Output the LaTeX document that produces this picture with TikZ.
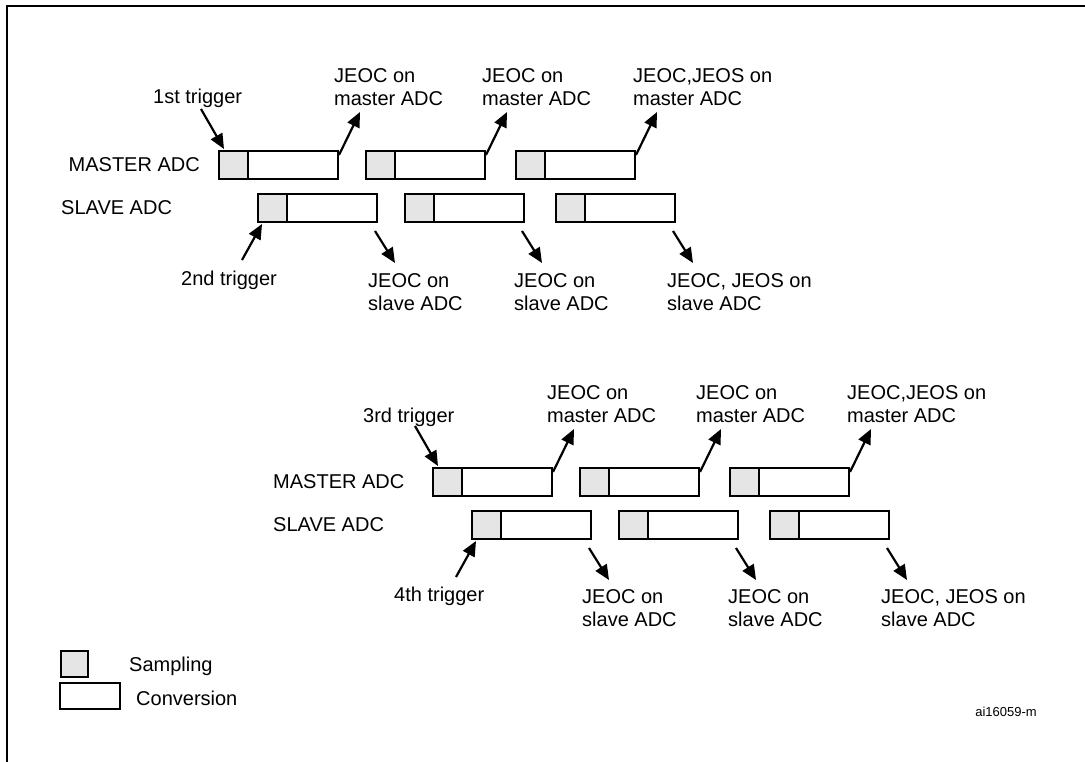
\documentclass[tikz,border=0pt]{standalone}
\usepackage{fontspec}
\setmainfont{Liberation Sans}
\usetikzlibrary{arrows.meta}
\begin{document}
\begin{tikzpicture}[x=1pt,y=-1pt,
  samp/.style={draw,line width=2pt,fill=black!10,minimum width=29pt,minimum height=28pt,inner sep=0pt,anchor=north west},
  conv/.style={draw,line width=2pt,fill=white,minimum width=90pt,minimum height=28pt,inner sep=0pt,anchor=north west},
  arr/.style={line width=2.2pt,-{Triangle[length=15pt,width=13pt]}},
  lbl/.style={font=\fontsize{20}{23.5}\selectfont,align=left,anchor=west,inner sep=0pt},
  lbll/.style={lbl}]
\useasboundingbox (0,0) rectangle (1085,762);
\draw[line width=1.5pt] (7,800) -- (7,6) -- (1100,6);
% groups
\foreach \g/\dx/\dy in {1/0/0,2/214/317}{
  \foreach \i/\mx/\sx in {1/218/257,2/365/404,3/515/555}{
    \node[samp] (ms\g\i) at (\mx+\dx,150+\dy) {};
    \node[conv] (mc\g\i) at (\mx+\dx+29,150+\dy) {};
    \node[samp] (ss\g\i) at (\sx+\dx,193+\dy) {};
    \node[conv] (sc\g\i) at (\sx+\dx+29,193+\dy) {};
    \coordinate (mt\g\i) at ([shift={(0,5)}]mc\g\i.north east);
    \coordinate (mh\g\i) at ([shift={(21,-38)}]mc\g\i.north east);
    \coordinate (st\g\i) at ([shift={(-3,8)}]sc\g\i.south east);
    \coordinate (sh\g\i) at ([shift={(17,40)}]sc\g\i.south east);
    \draw[arr] (mt\g\i) -- (mh\g\i);
    \draw[arr] (st\g\i) -- (sh\g\i);
  }
  \coordinate (tt\g) at ([shift={(-17,-41)}]ms\g1.north west);
  \coordinate (th\g) at ([shift={(6,-1)}]ms\g1.north west);
  \coordinate (ut\g) at ([shift={(-15,37)}]ss\g1.south west);
  \coordinate (uh\g) at ([shift={(5,1)}]ss\g1.south west);
  \draw[arr] (tt\g) -- (th\g);
  \draw[arr] (ut\g) -- (uh\g);
}
% group 1 labels
\node[lbl] (t1) at (153,98) {1st trigger};
\node[lbl,anchor=east] (ma1) at (200,165) {MASTER ADC};
\node[lbl] (sa1) at (61,208) {SLAVE ADC};
\node[lbl] (t2) at (181,280) {2nd trigger};
\node[lbl] (j11) at (334,87) {JEOC on\\master ADC};
\node[lbl] (j12) at (482,87) {JEOC on\\master ADC};
\node[lbl] (j13) at (633,87) {JEOC,JEOS on\\master ADC};
\node[lbl] (k11) at (368,292) {JEOC on\\slave ADC};
\node[lbl] (k12) at (514,292) {JEOC on\\slave ADC};
\node[lbl] (k13) at (667,292) {JEOC, JEOS on\\slave ADC};
% group 2 labels
\node[lbl] (t3) at (363,417) {3rd trigger};
\node[lbl] (ma2) at (273,482) {MASTER ADC};
\node[lbl] (sa2) at (273,525) {SLAVE ADC};
\node[lbl] (t4) at (394,596) {4th trigger};
\node[lbl] (j21) at (547,404) {JEOC on\\master ADC};
\node[lbl] (j22) at (696,404) {JEOC on\\master ADC};
\node[lbl] (j23) at (847,404) {JEOC,JEOS on\\master ADC};
\node[lbl] (k21) at (582,608) {JEOC on\\slave ADC};
\node[lbl] (k22) at (728,608) {JEOC on\\slave ADC};
\node[lbl] (k23) at (881,608) {JEOC, JEOS on\\slave ADC};
% legend
\node[draw,line width=2pt,fill=black!10,minimum width=27pt,minimum height=26pt,inner sep=0pt,anchor=north west] (ls) at (60,650) {};
\node[draw,line width=2pt,minimum width=60pt,minimum height=26pt,inner sep=0pt,anchor=north west] (lc) at (59,682) {};
\node[lbl] (lst) at (129,666) {Sampling};
\node[lbl] (lct) at (136,698) {Conversion};
\node[font=\fontsize{13}{15}\selectfont,anchor=east,inner sep=0pt] (id) at (1037,712) {ai16059-m};
\end{tikzpicture}
\end{document}
